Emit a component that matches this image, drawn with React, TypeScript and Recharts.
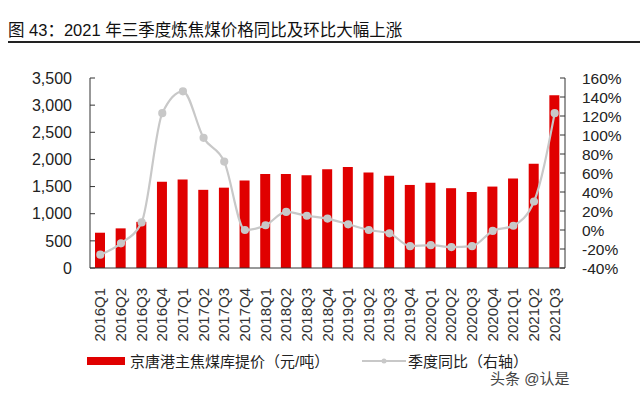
import React from "react";
import {
  ComposedChart,
  Bar,
  Line,
  XAxis,
  YAxis,
} from "recharts";

const quarters = [
  "2016Q1", "2016Q2", "2016Q3", "2016Q4",
  "2017Q1", "2017Q2", "2017Q3", "2017Q4",
  "2018Q1", "2018Q2", "2018Q3", "2018Q4",
  "2019Q1", "2019Q2", "2019Q3", "2019Q4",
  "2020Q1", "2020Q2", "2020Q3", "2020Q4",
  "2021Q1", "2021Q2", "2021Q3",
];

// 京唐港主焦煤库提价（元/吨）
const price = [
  650, 730, 850, 1590,
  1630, 1440, 1480, 1610,
  1730, 1730, 1710, 1820,
  1860, 1760, 1700, 1530,
  1570, 1470, 1400, 1500,
  1650, 1920, 3180,
];

// 季度同比（%，右轴）
const yoy = [
  -26, -14, 8, 123,
  146, 97, 72, 0,
  5, 19, 15, 12,
  6, 0, -3.5, -17,
  -16, -18, -17, -1,
  4.5, 30, 123,
];

const leftTicks = [0, 500, 1000, 1500, 2000, 2500, 3000, 3500];
const rightTicks = [-40, -20, 0, 20, 40, 60, 80, 100, 120, 140, 160];

const data = quarters.map((q, i) => ({ name: q, price: price[i], yoy: yoy[i] }));

const FONT = "'Liberation Sans', Arial, sans-serif";
const CJK = "'Liberation Sans', 'Noto Sans CJK SC', sans-serif";

const XTick = (props: any) => {
  const { x, y, payload } = props;
  return (
    <text
      x={0}
      y={0}
      transform={`translate(${x + 5},${y + 12}) rotate(-90)`}
      textAnchor="end"
      fontSize={15}
      fontFamily={FONT}
      fill="#333"
    >
      {payload.value}
    </text>
  );
};

const App = () => {
  return (
    <div
      style={{
        position: "absolute",
        left: 0,
        top: 0,
        width: 640,
        height: 394,
        background: "#fff",
        overflow: "hidden",
      }}
    >
      <div
        style={{
          position: "absolute",
          left: 8,
          top: 17,
          fontFamily: CJK,
          fontSize: 16.5,
          color: "#111",
          whiteSpace: "nowrap",
        }}
      >
        图 43：2021 年三季度炼焦煤价格同比及环比大幅上涨
      </div>
      <div
        style={{
          position: "absolute",
          left: 8,
          top: 41,
          width: 632,
          height: 2,
          background: "#222",
        }}
      />
      <div style={{ position: "absolute", left: 0, top: 0 }}>
        <ComposedChart
          width={640}
          height={394}
          data={data}
          margin={{ top: 78, right: 15, bottom: 64, left: 30 }}
        >
          <XAxis
            dataKey="name"
            interval={0}
            height={62}
            tick={<XTick />}
            tickLine={false}
            axisLine={{ stroke: "#333" }}
          />
          <YAxis
            yAxisId="left"
            domain={[0, 3500]}
            ticks={leftTicks}
            interval={0}
            width={60}
            tickSize={-5}
            tickMargin={23}
            tickLine={{ stroke: "#333" }}
            axisLine={{ stroke: "#333" }}
            tickFormatter={(v: number) => v.toLocaleString("en-US")}
            tick={{ fontSize: 16, fontFamily: FONT, fill: "#222" }}
          />
          <YAxis
            yAxisId="right"
            orientation="right"
            domain={[-40, 160]}
            ticks={rightTicks}
            interval={0}
            width={60}
            tickSize={-5}
            tickMargin={22}
            tickLine={{ stroke: "#333" }}
            axisLine={{ stroke: "#333" }}
            tickFormatter={(v: number) => `${v}%`}
            tick={{ fontSize: 15.5, fontFamily: FONT, fill: "#222" }}
          />
          <Bar
            yAxisId="left"
            dataKey="price"
            fill="#e00000"
            barSize={10}
            isAnimationActive={false}
          />
          <Line
            yAxisId="right"
            dataKey="yoy"
            type="monotone"
            stroke="#c8c8c8"
            strokeWidth={2.2}
            dot={{ r: 3, fill: "#c8c8c8", stroke: "#c8c8c8" }}
            isAnimationActive={false}
          />
        </ComposedChart>
      </div>
      <div
        style={{
          position: "absolute",
          left: 87,
          top: 357,
          width: 38,
          height: 8,
          background: "#e00000",
        }}
      />
      <div
        style={{
          position: "absolute",
          left: 130,
          top: 350,
          fontFamily: CJK,
          fontSize: 15,
          color: "#222",
          whiteSpace: "nowrap",
        }}
      >
        京唐港主焦煤库提价（元/吨）
      </div>
      <svg
        style={{ position: "absolute", left: 362, top: 355 }}
        width={44}
        height={12}
      >
        <line x1={0} y1={6} x2={44} y2={6} stroke="#c8c8c8" strokeWidth={2} />
        <circle cx={22} cy={6} r={2.5} fill="#c8c8c8" />
      </svg>
      <div
        style={{
          position: "absolute",
          left: 408,
          top: 350,
          fontFamily: CJK,
          fontSize: 15,
          color: "#222",
          whiteSpace: "nowrap",
        }}
      >
        季度同比（右轴）
      </div>
      <div
        style={{
          position: "absolute",
          left: 490,
          top: 367,
          fontFamily: CJK,
          fontSize: 15,
          color: "#444",
          whiteSpace: "nowrap",
        }}
      >
        头条 @认是
      </div>
    </div>
  );
};

export default App;
